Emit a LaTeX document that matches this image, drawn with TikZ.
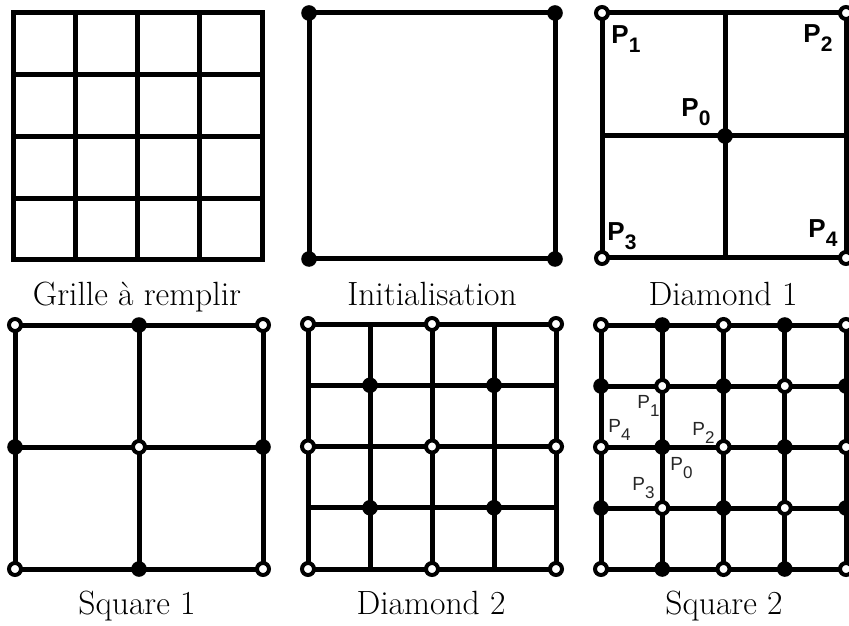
\documentclass[tikz,border=0pt]{standalone}
\usepackage{fontspec}
\newfontfamily\labfont{Liberation Sans}
\newcommand\Pbig[1]{P\raisebox{-4.5pt}{\fontsize{10.5}{10.5}\selectfont #1}}
\newcommand\Psmall[1]{P\raisebox{-4pt}{\fontsize{8.5}{8.5}\selectfont #1}}
\begin{document}
\begin{tikzpicture}[x=0.5pt,y=-0.5pt,
  gl/.style={line width=2.5pt, line cap=rect, line join=miter},
  fd/.style={circle, fill=black, inner sep=0pt, minimum size=7.8pt},
  hd/.style={circle, draw=black, fill=white, line width=2pt, inner sep=0pt, minimum size=6pt},
  captxt/.style={font=\fontsize{16.8}{20}\selectfont, anchor=base, inner sep=0pt},
  bigP/.style={font=\labfont\bfseries\fontsize{13}{13}\selectfont, inner sep=0pt, anchor=base west},
  smallP/.style={font=\labfont\fontsize{9.5}{9.5}\selectfont, text=black!85, inner sep=0pt, anchor=base west}]
\useasboundingbox (0,0) rectangle (849,625);

% Panel 1: Grille a remplir
\foreach \k in {0,...,4} {
  \pgfmathsetmacro\xx{13+\k*62.25}
  \pgfmathsetmacro\yy{13+\k*61.75}
  \draw[gl] (\xx,13) -- (\xx,260);
  \draw[gl] (13,\yy) -- (262,\yy);
}
\node[captxt] (c1) at (137,305) {Grille à remplir};

% Panel 2: Initialisation
\draw[gl] (309,13) rectangle (555,259);
\node[fd] (i-tl) at (309,13) {};
\node[fd] (i-tr) at (555,13) {};
\node[fd] (i-bl) at (309,259) {};
\node[fd] (i-br) at (555,259) {};
\node[captxt] (c2) at (432,305) {Initialisation};

% Panel 3: Diamond 1
\draw[gl] (602,13) rectangle (846,258);
\draw[gl] (725,13) -- (725,258);
\draw[gl] (602,136) -- (846,136);
\node[hd] (d1-tl) at (602,13) {};
\node[hd] (d1-tr) at (846,13) {};
\node[hd] (d1-bl) at (602,258) {};
\node[hd] (d1-br) at (846,258) {};
\node[fd] (d1-c) at (725,136) {};
\node[bigP] (l1) at (611,44) {\Pbig{1}};
\node[bigP] (l2) at (803,43) {\Pbig{2}};
\node[bigP] (l0) at (681,117) {\Pbig{0}};
\node[bigP] (l3) at (607,241) {\Pbig{3}};
\node[bigP] (l4) at (808,238) {\Pbig{4}};
\node[captxt] (c3) at (723,305) {Diamond 1};

% Panel 4: Square 1
\foreach \k in {0,...,2} {
  \pgfmathsetmacro\xx{15+\k*124}
  \pgfmathsetmacro\yy{325+\k*122}
  \draw[gl] (\xx,325) -- (\xx,569);
  \draw[gl] (15,\yy) -- (263,\yy);
}
\foreach \i in {0,...,2} {
  \foreach \j in {0,...,2} {
    \pgfmathtruncatemacro\pty{mod(\i+\j,2)}
    \ifnum\pty=0
      \node[hd] (s1-\i-\j) at ({15+\i*124},{325+\j*122}) {};
    \else
      \node[fd] (s1-\i-\j) at ({15+\i*124},{325+\j*122}) {};
    \fi
  }
}
\node[captxt] (c4) at (137,614) {Square 1};

% Panel 5: Diamond 2
\foreach \k in {0,...,4} {
  \pgfmathsetmacro\xx{308+\k*62}
  \pgfmathsetmacro\yy{324+\k*61.25}
  \draw[gl] (\xx,324) -- (\xx,569);
  \draw[gl] (308,\yy) -- (556,\yy);
}
\foreach \i in {0,2,4} {
  \foreach \j in {0,2,4} {
    \node[hd] (d2-\i-\j) at ({308+\i*62},{324+\j*61.25}) {};
  }
}
\foreach \i in {1,3} {
  \foreach \j in {1,3} {
    \node[fd] (d2-\i-\j) at ({308+\i*62},{324+\j*61.25}) {};
  }
}
\node[captxt] (c5) at (431,614) {Diamond 2};

% Panel 6: Square 2
\foreach \k in {0,...,4} {
  \pgfmathsetmacro\xx{601+\k*61.25}
  \pgfmathsetmacro\yy{325+\k*61}
  \draw[gl] (\xx,325) -- (\xx,569);
  \draw[gl] (601,\yy) -- (846,\yy);
}
\foreach \i in {0,...,4} {
  \foreach \j in {0,...,4} {
    \pgfmathtruncatemacro\pty{mod(\i+\j,2)}
    \ifnum\pty=0
      \node[hd] (s2-\i-\j) at ({601+\i*61.25},{325+\j*61}) {};
    \else
      \node[fd] (s2-\i-\j) at ({601+\i*61.25},{325+\j*61}) {};
    \fi
  }
}
\node[smallP] (m1) at (637,408) {\Psmall{1}};
\node[smallP] (m4) at (608,432) {\Psmall{4}};
\node[smallP] (m2) at (692,435) {\Psmall{2}};
\node[smallP] (m0) at (670,470) {\Psmall{0}};
\node[smallP] (m3) at (632,490) {\Psmall{3}};
\node[captxt] (c6) at (724,614) {Square 2};
\end{tikzpicture}
\end{document}
